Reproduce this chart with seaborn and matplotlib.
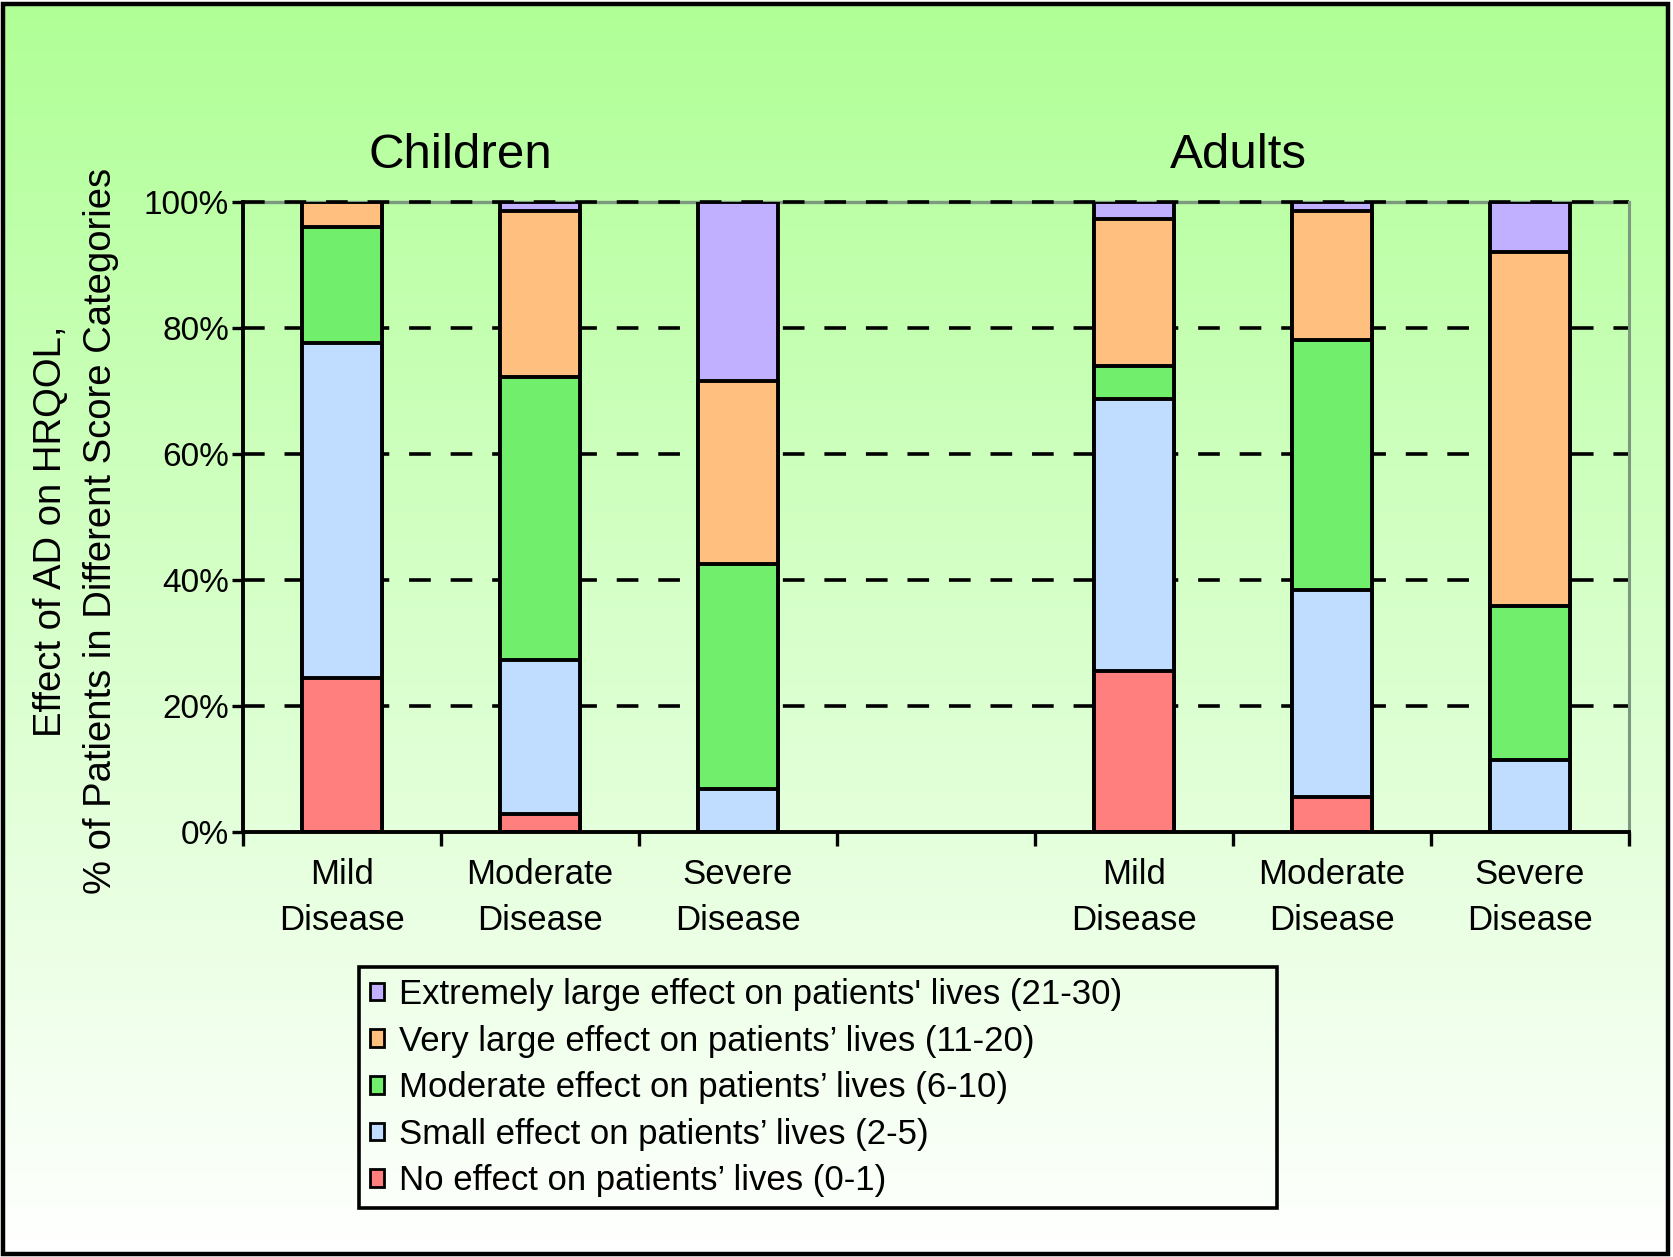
import numpy as np
import pandas as pd
import matplotlib
matplotlib.use('Agg')
import matplotlib.pyplot as plt
from matplotlib.patches import Patch, Rectangle
import seaborn as sns

# bar groups (the empty slot separates children from adults)
groups = ["C-Mild", "C-Moderate", "C-Severe", "A-Mild", "A-Moderate", "A-Severe"]
order = ["C-Mild", "C-Moderate", "C-Severe", "gap", "A-Mild", "A-Moderate", "A-Severe"]
tick_labels = ["Mild\nDisease", "Moderate\nDisease", "Severe\nDisease", "",
               "Mild\nDisease", "Moderate\nDisease", "Severe\nDisease"]

# % of patients in each score band, bottom to top
no_effect = [24.4, 2.9, 0.0, 25.6, 5.6, 0.0]
small_effect = [53.2, 24.4, 6.8, 43.2, 32.8, 11.5]
moderate_effect = [18.5, 45.0, 35.8, 5.2, 39.7, 24.3]
very_large_effect = [3.9, 26.3, 29.0, 23.3, 20.5, 56.2]
extremely_large_effect = [0.0, 1.4, 28.4, 2.7, 1.4, 8.0]

series_labels = ["No effect on patients\u2019 lives (0-1)",
                 "Small effect on patients\u2019 lives (2-5)",
                 "Moderate effect on patients\u2019 lives (6-10)",
                 "Very large effect on patients\u2019 lives (11-20)",
                 "Extremely large effect on patients' lives (21-30)"]
series_colors = ["#ff7f7f", "#c0dcff", "#70ee6c", "#ffbf7f", "#c0b0ff"]

y_ticks = [0, 20, 40, 60, 80, 100]
y_tick_labels = ["0%", "20%", "40%", "60%", "80%", "100%"]

sns.set_theme(style="white")
plt.rcParams['font.family'] = ['Liberation Sans', 'DejaVu Sans']
plt.rcParams['text.color'] = 'black'
plt.rcParams['xtick.color'] = 'black'
plt.rcParams['ytick.color'] = 'black'
plt.rcParams['axes.labelcolor'] = 'black'

W, H = 1674, 1257
fig = plt.figure(figsize=(W / 100, H / 100), dpi=100)
fig.patch.set_facecolor("white")

# gradient background inside the frame
bg = fig.add_axes([3 / W, 3 / H, 1665 / W, 1250 / H], zorder=-10)
t = np.linspace(0, 1, 256)[:, None]
top_c = np.array([176, 255, 150]) / 255
bot_c = np.array([255, 255, 255]) / 255
grad = (top_c[None, :] * (1 - t) + bot_c[None, :] * t)[:, None, :]
bg.imshow(grad, aspect="auto", extent=[0, 1, 0, 1], origin="upper")
bg.set_axis_off()
fig.patches.append(Rectangle((3 / W, 3 / H), 1665 / W, 1250 / H, transform=fig.transFigure,
                             fill=False, edgecolor="black", linewidth=3.2, zorder=5))

ax = fig.add_axes([243 / W, 1 - 832 / H, (1629 - 243) / W, (832 - 202) / H])
ax.set_facecolor("none")

df = pd.DataFrame({"group": groups, "no": no_effect, "small": small_effect,
                   "moderate": moderate_effect, "very": very_large_effect,
                   "extreme": extremely_large_effect})
cols = ["no", "small", "moderate", "very", "extreme"]
cum = df[cols].cumsum(axis=1)

# draw cumulative totals from the top layer down so each band shows
for i in range(len(cols) - 1, -1, -1):
    sns.barplot(x=df["group"], y=cum[cols[i]], order=order, color=series_colors[i],
                saturation=1, width=0.4, edgecolor="black", linewidth=2.8,
                errorbar=None, ax=ax, zorder=2)

ax.set_xlim(-0.5, 6.5)
ax.set_ylim(0, 100)
ax.set_xlabel("")
ax.set_ylabel("")

# dashed grid lines, grey frame line on top and right
ax.axhline(100, color="#7d9a80", linewidth=2.4, zorder=0.3, clip_on=False)
for v in y_ticks[1:]:
    ax.axhline(v, color="black", linewidth=2.6, linestyle=(0, (6, 5.5)),
               zorder=0.5, clip_on=False)

ax.spines["top"].set_visible(False)
ax.spines["right"].set_color("#7d9a80")
ax.spines["right"].set_linewidth(2.2)
for s in ["left", "bottom"]:
    ax.spines[s].set_color("black")
    ax.spines[s].set_linewidth(2.8)
    ax.spines[s].set_zorder(3)

ax.set_yticks(y_ticks, y_tick_labels)
ax.tick_params(axis="y", which="major", direction="out", length=8, width=2.4,
               color="black", labelsize=24, pad=2, left=True)

ax.set_xticks(np.arange(-0.5, 7, 1))
ax.set_xticklabels([])
ax.set_xticks(np.arange(7), labels=tick_labels, minor=True)
ax.tick_params(axis="x", which="major", direction="out", length=10, width=2.4,
               color="black", bottom=True)
ax.tick_params(axis="x", which="minor", length=0, labelsize=25, pad=19)
for lab in ax.get_xticklabels(minor=True):
    lab.set_linespacing(1.5)

# group titles
fig.text(460 / W, 1 - 168 / H, "Children", fontsize=35.5, ha="center", va="baseline")
fig.text(1238 / W, 1 - 168 / H, "Adults", fontsize=35.5, ha="center", va="baseline")

fig.text(76 / W, 1 - 531 / H,
         "Effect of AD on HRQOL,\n% of Patients in Different Score Categories",
         fontsize=27.5, rotation=90, ha="center", va="center", linespacing=1.5)

handles = [Patch(facecolor=series_colors[i], edgecolor="black", linewidth=2.0)
           for i in range(len(cols) - 1, -1, -1)]
labels = [series_labels[i] for i in range(len(cols) - 1, -1, -1)]
leg = fig.legend(handles, labels, loc="upper left",
                 bbox_to_anchor=(359 / W, 1 - 1206 / H, 918 / W, (1206 - 967) / H),
                 bbox_transform=fig.transFigure, mode="expand", ncol=1,
                 fontsize=25, frameon=True, fancybox=False, borderaxespad=0,
                 borderpad=0.32, labelspacing=0.39, handlelength=0.4,
                 handleheight=0.4, handletextpad=0.42, framealpha=1)
leg.get_frame().set_edgecolor("black")
leg.get_frame().set_linewidth(2.6)
leg.get_frame().set_facecolor("none")

fig.savefig("out.png", dpi=100)
